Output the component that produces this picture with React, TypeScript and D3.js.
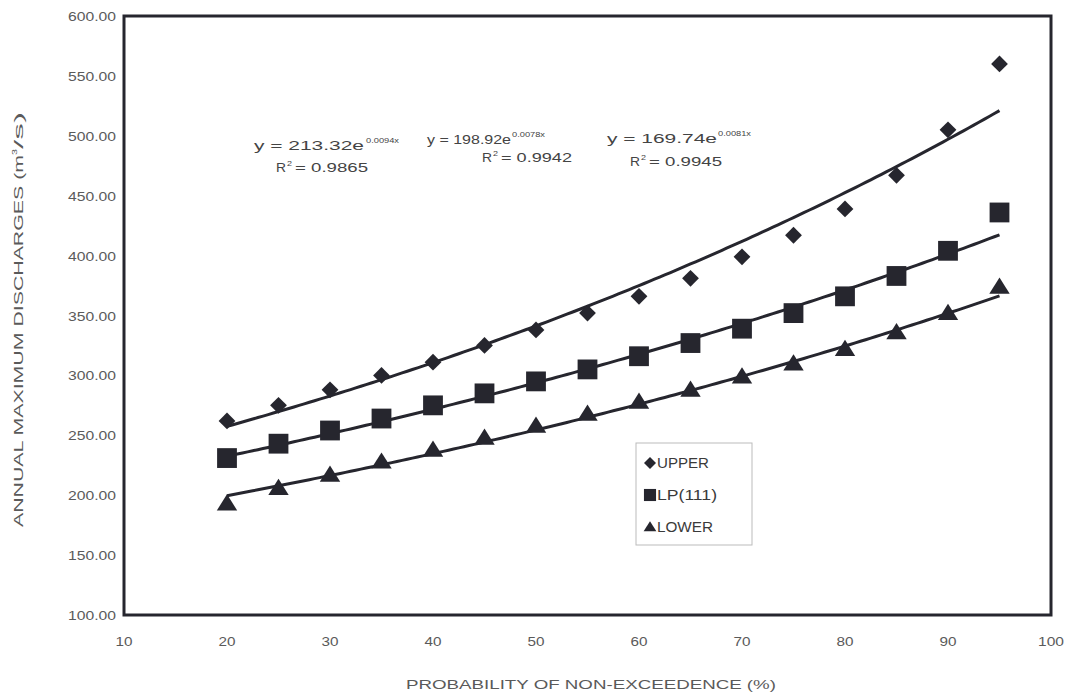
import React from "react";
import * as d3 from "d3";

const probabilities = [20, 25, 30, 35, 40, 45, 50, 55, 60, 65, 70, 75, 80, 85, 90, 95];
const upperValues = [262, 275, 288, 300, 311, 325, 338, 352, 366, 381, 399, 417, 439, 467, 505, 560];
const lp111Values = [231, 243, 254, 264, 275, 285, 295, 305, 316, 327, 339, 352, 366, 383, 404, 436];
const lowerValues = [193, 206, 217, 228, 238, 248, 258, 268, 278, 288, 299, 310, 322, 336, 352, 374];

// Exponential trend fits: y = a * e^(b x)
const trendA = [213.32, 198.92, 169.74];
const trendB = [0.0094, 0.0078, 0.0081];
const trendR2 = ["0.9865", "0.9942", "0.9945"];

const xTicks = [10, 20, 30, 40, 50, 60, 70, 80, 90, 100];
const yTicks = [100, 150, 200, 250, 300, 350, 400, 450, 500, 550, 600];
const seriesNames = ["UPPER", "LP(111)", "LOWER"];

const W = 1072;
const H = 695;
const plot = { left: 124, right: 1051, top: 16, bottom: 615 };
const ink = "#26262e";
const textGray = "#5a5a5a";
const font = "Arial, 'Liberation Sans', sans-serif";

const x = d3.scaleLinear().domain([10, 100]).range([plot.left, plot.right]);
const y = d3.scaleLinear().domain([100, 600]).range([plot.bottom, plot.top]);

function Marker({ kind, cx, cy, s }: { kind: number; cx: number; cy: number; s: number }) {
  if (kind === 0) {
    const r = s * 0.6;
    return <path d={`M${cx},${cy - r}L${cx + r},${cy}L${cx},${cy + r}L${cx - r},${cy}Z`} fill={ink} />;
  }
  if (kind === 1) {
    const h = s * 0.55;
    return <rect x={cx - h} y={cy - h} width={2 * h} height={2 * h} fill={ink} />;
  }
  const h = s * 0.58;
  return <path d={`M${cx},${cy - h}L${cx + h * 1.1},${cy + h * 0.75}L${cx - h * 1.1},${cy + h * 0.75}Z`} fill={ink} />;
}

// Text drawn with a fixed extent, so the wide lettering keeps its set width.
function Wide({
  x0, y0, len, size, children, fill = textGray, anchor = "start",
}: {
  x0: number; y0: number; len: number; size: number; children: React.ReactNode; fill?: string; anchor?: string;
}) {
  return (
    <text x={x0} y={y0} fontSize={size} fill={fill} textAnchor={anchor} textLength={len} lengthAdjust="spacingAndGlyphs">
      {children}
    </text>
  );
}

export default function App() {
  const series = [upperValues, lp111Values, lowerValues];
  const line = d3.line<number>().x((p) => x(p));

  const trendPaths = trendA.map((a, i) => {
    const xs = d3.range(20, 95.01, 0.5);
    return line.y((p) => y(a * Math.exp(trendB[i] * p)))(xs) as string;
  });

  // label placement: base text start/length, exponent start, R² start/length
  const eqPos = [
    { x: 254, y: 150, len: 110, ex: 366, rx: 276, ry: 172, rlen: 92 },
    { x: 427, y: 144, len: 84, ex: 512, rx: 482, ry: 162, rlen: 90 },
    { x: 607, y: 143, len: 110, ex: 718, rx: 630, ry: 166, rlen: 92 },
  ];
  const eqFill = "#444";

  return (
    <svg width={W} height={H} style={{ position: "absolute", left: 0, top: 0, background: "#fff" }} fontFamily={font}>
      <rect x={0} y={0} width={W} height={H} fill="#fff" />

      {/* trend curves */}
      {trendPaths.map((d, i) => (
        <path key={i} d={d} fill="none" stroke={ink} strokeWidth={3} />
      ))}

      {/* data markers */}
      {series.map((vals, si) =>
        vals.map((v, i) => (
          <Marker key={`${si}-${i}`} kind={si} cx={x(probabilities[i])} cy={y(v)} s={si === 1 ? 18 : si === 0 ? 14 : 16} />
        ))
      )}

      {/* plot frame */}
      <rect
        x={plot.left}
        y={plot.top}
        width={plot.right - plot.left}
        height={plot.bottom - plot.top}
        fill="none"
        stroke={ink}
        strokeWidth={3}
      />

      {/* y tick labels */}
      {yTicks.map((t) => (
        <Wide key={t} x0={plot.left - 8} y0={y(t) + 5} len={48} size={13} anchor="end">
          {t.toFixed(2)}
        </Wide>
      ))}

      {/* x tick labels */}
      {xTicks.map((t) => (
        <Wide key={t} x0={x(t)} y0={plot.bottom + 31} len={t === 100 ? 26 : 17} size={13} anchor="middle">
          {t}
        </Wide>
      ))}

      {/* axis titles */}
      <Wide x0={591} y0={689} len={370} size={13} anchor="middle">
        PROBABILITY OF NON-EXCEEDENCE (%)
      </Wide>
      <g transform="translate(23, 527) rotate(-90)">
        <Wide x0={0} y0={0} len={372} size={13}>
          ANNUAL MAXIMUM DISCHARGES (m
        </Wide>
        <Wide x0={372} y0={-6} len={6} size={8}>
          3
        </Wide>
        <Wide x0={378} y0={0} len={37} size={13}>
          /s)
        </Wide>
      </g>

      {/* trend equations */}
      {trendA.map((a, i) => (
        <g key={i}>
          <Wide x0={eqPos[i].x} y0={eqPos[i].y} len={eqPos[i].len} size={13} fill={eqFill}>
            {`y = ${a.toFixed(2)}e`}
          </Wide>
          <Wide x0={eqPos[i].ex} y0={eqPos[i].y - 7} len={33} size={7} fill={eqFill}>
            {`${trendB[i].toFixed(4)}x`}
          </Wide>
          <Wide x0={eqPos[i].rx} y0={eqPos[i].ry} len={10} size={13} fill={eqFill}>
            R
          </Wide>
          <Wide x0={eqPos[i].rx + 11} y0={eqPos[i].ry - 6} len={5} size={8} fill={eqFill}>
            2
          </Wide>
          <Wide x0={eqPos[i].rx + 19} y0={eqPos[i].ry} len={eqPos[i].rlen - 19} size={13} fill={eqFill}>
            {`= ${trendR2[i]}`}
          </Wide>
        </g>
      ))}

      {/* legend */}
      <rect x={636} y={443} width={116} height={102} fill="#fff" stroke="#bbb" strokeWidth={1} />
      {seriesNames.map((n, i) => {
        const ly = 463 + i * 32;
        return (
          <g key={n}>
            <Marker kind={i} cx={650} cy={ly} s={i === 1 ? 11 : 10} />
            <Wide x0={657} y0={ly + 5} len={[52, 60, 56][i]} size={14} fill="#3a3a3a">
              {n}
            </Wide>
          </g>
        );
      })}
    </svg>
  );
}
